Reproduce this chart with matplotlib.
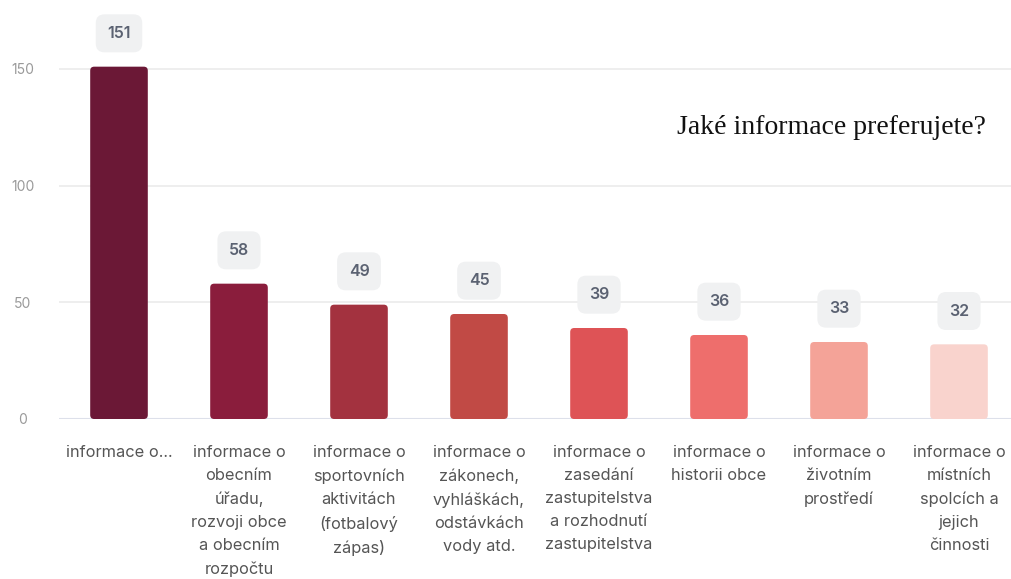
import matplotlib
matplotlib.use("Agg")
import matplotlib.pyplot as plt
from matplotlib.patches import FancyBboxPatch

categories = [
    "informace o...",
    "informace o\nobecním\núřadu,\nrozvoji obce\na obecním\nrozpočtu",
    "informace o\nsportovních\naktivitách\n(fotbalový\nzápas)",
    "informace o\nzákonech,\nvyhláškách,\nodstávkách\nvody atd.",
    "informace o\nzasedání\nzastupitelstva\na rozhodnutí\nzastupitelstva",
    "informace o\nhistorii obce",
    "informace o\nživotním\nprostředí",
    "informace o\nmístních\nspolcích a\njejich\nčinnosti",
]
counts = [151, 58, 49, 45, 39, 36, 33, 32]
colors = ["#6b1836", "#8a1d3c", "#a3323f", "#c14a45", "#de5356",
          "#ee6e6c", "#f4a398", "#f9d3cd"]
yticks = [0, 50, 100, 150]

W, H = 1011, 579
fig = plt.figure(figsize=(W / 100, H / 100), dpi=100)
# plot area runs a little past the right edge, like the source widget
ax = fig.add_axes([59 / W, (H - 419) / H, 960 / W, 419 / H])

x = list(range(len(counts)))
bars = ax.bar(x, counts, width=0.48, color=colors, zorder=3)

# swap plain rectangles for ones with rounded tops
px_x = 960 / 8
px_y = 350 / 150
for b in bars:
    b.set_visible(False)
    r = 4 / px_x
    patch = FancyBboxPatch(
        (b.get_x(), 0), b.get_width(), b.get_height(),
        boxstyle=f"round,pad=0,rounding_size={r}",
        mutation_aspect=px_x / px_y,
        facecolor=b.get_facecolor(), edgecolor="none", zorder=3)
    ax.add_patch(patch)

for xi, v in zip(x, counts):
    ax.annotate(str(v), (xi, v), xytext=(0, 24), textcoords="offset points",
                ha="center", va="center", fontsize=11.5, fontweight="semibold",
                family="Inter", color="#5b6272",
                bbox=dict(boxstyle="round,pad=0.72,rounding_size=0.55",
                          fc="#f0f1f2", ec="none"))

ax.set_xlim(-0.5, len(counts) - 0.5)
ax.set_ylim(0, 150 + 69 / px_y)
ax.set_yticks(yticks)
ax.set_yticklabels([str(t) for t in yticks], family="Inter", fontsize=10,
                   color="#9a9a9a")
ax.set_xticks(x)
ax.set_xticklabels(categories, family="Inter", fontsize=11.8, color="#555555",
                   linespacing=1.66, va="top")
ax.tick_params(axis="both", length=0)
ax.tick_params(axis="x", pad=19)
ax.tick_params(axis="y", pad=26)
for lab in ax.get_yticklabels():
    lab.set_horizontalalignment("center")

for s in ax.spines.values():
    s.set_visible(False)
for t in yticks[1:]:
    ax.axhline(t, color="#ebebeb", lw=1.2, zorder=1)
ax.axhline(0, color="#dde0ea", lw=1.5, zorder=2)

fig.text(677 / W, 1 - 128 / H, "Jaké informace preferujete?",
         family="Liberation Serif", fontsize=20, color="#111111",
         ha="left", va="center")

fig.savefig("out.png", dpi=100)
